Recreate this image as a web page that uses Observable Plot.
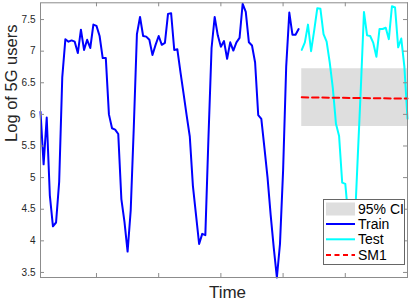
<!DOCTYPE html>
<html><head><meta charset="utf-8">
<script src="https://cdn.jsdelivr.net/npm/d3@7"></script>
<script src="https://cdn.jsdelivr.net/npm/@observablehq/plot@0.6"></script>
<style>
body{margin:0;background:#fff;}
#wrap{position:relative;width:415px;height:301px;font-family:"Liberation Sans",Arial,Helvetica,sans-serif;}
#legend{position:absolute;left:323px;top:199px;overflow:visible;}
</style></head><body><div id="wrap"></div>
<script>
// ---- data ----
const trainStart = 2;
const trainValues = [
  6.04, 5.21, 5.95, 4.72, 4.23, 4.29, 4.93, 6.59, 7.19, 7.15,
  7.17, 7.15, 6.97, 7.34, 7.02, 7.18, 7.05, 7.42, 7.40, 7.24,
  6.89, 6.89, 6.00, 5.78, 5.76, 5.69, 4.66, 4.30, 3.83, 4.48,
  5.80, 7.27, 7.54, 7.24, 7.23, 7.18, 6.94, 7.10, 7.24, 7.10,
  7.13, 7.59, 7.60, 7.02, 7.03, 6.67, 6.33, 5.98, 5.65, 4.87,
  4.41, 3.95, 4.11, 4.09, 5.63, 7.05, 7.54, 7.25, 7.07, 7.16,
  6.88, 7.14, 7.01, 7.14, 7.21, 7.75, 7.62, 7.14, 7.09, 6.82,
  5.99, 5.93, 5.47, 5.00, 4.41, 3.89, 3.42, 3.95, 5.11, 6.76,
  7.61, 7.26, 7.26, 7.35
];
const testStart = 86;
const testValues = [
  7.02, 7.14, 7.42, 7.00, 7.33, 7.68, 7.67, 7.27, 7.15, 6.82,
  6.41, 5.85, 5.66, 4.92, 4.90, 4.35, 4.05, 4.21, 5.32, 6.42,
  7.62, 7.25, 7.24, 7.13, 6.91, 7.35, 7.35, 7.37, 7.19, 7.71,
  7.69, 7.06, 7.20, 6.75, 5.93
];
const sm1Times = [86, 120];
const sm1Values = [6.27, 6.25];
const ciTimes = [86, 120];
const ciLower = [5.81, 5.81];
const ciUpper = [6.72, 6.72];
const yTicks = [3.5, 4, 4.5, 5, 5.5, 6, 6.5, 7, 7.5];
const xTicks = [20, 40, 60, 80, 100, 120];
const legendLabels = ["95% CI", "Train", "Test", "SM1"];
const xLabel = "Time";
const yLabel = "Log of 5G users";

// ---- build tables ----
const train = trainValues.map((v, i) => ({t: trainStart + i, v}));
const test = testValues.map((v, i) => ({t: testStart + i, v}));
const sm1 = sm1Times.map((t, i) => ({t, v: sm1Values[i]}));
const ci = ciTimes.map((t, i) => ({t, lo: ciLower[i], hi: ciUpper[i]}));

const W = 415, H = 301, mL = 40, mR = 8, mT = 2.3, mB = 24;
const innerW = W - mL - mR, innerH = H - mT - mB;
const axisColor = "#8c8c8c", textColor = "#262626";

const chart = Plot.plot({
  width: W, height: H,
  marginLeft: mL, marginRight: mR, marginTop: mT, marginBottom: mB,
  style: {fontFamily: '"Liberation Sans", Arial, Helvetica, sans-serif', background: "#fff"},
  x: {domain: [2, 120], axis: null},
  y: {domain: [3.42, 7.765]},
  marks: [
    Plot.areaY(ci, {x: "t", y1: "lo", y2: "hi", fill: "#dedede", fillOpacity: 1}),
    Plot.lineY(train, {x: "t", y: "v", stroke: "#0000ff", strokeWidth: 2}),
    Plot.lineY(test, {x: "t", y: "v", stroke: "#00ffff", strokeWidth: 2}),
    Plot.lineY(sm1, {x: "t", y: "v", stroke: "#ff0000", strokeWidth: 2, strokeDasharray: "6.5,3.8"}),
    Plot.frame({stroke: axisColor}),
    Plot.axisY(yTicks, {tickSize: 0, tickPadding: 5, tickFormat: d => String(d), fontSize: 10, fill: textColor, label: null}),
    Plot.tickY(yTicks, {y: d => d, insetRight: innerW - 4, stroke: axisColor}),
    Plot.tickY(yTicks, {y: d => d, insetLeft: innerW - 4, stroke: axisColor}),
    Plot.tickX(xTicks, {x: d => d, insetTop: innerH - 4, stroke: axisColor}),
    Plot.tickX(xTicks, {x: d => d, insetBottom: innerH - 4, stroke: axisColor}),
    Plot.text([yLabel], {text: d => d, frameAnchor: "left", rotate: -90, dx: -28.3, dy: 1.8, fontSize: 16.5, lineAnchor: "middle", fill: textColor}),
    Plot.text([xLabel], {text: d => d, frameAnchor: "bottom", dx: 3.5, dy: 14.6, fontSize: 17, lineAnchor: "middle", fill: textColor})
  ]
});
const wrap = document.getElementById("wrap");
wrap.appendChild(chart);

// ---- legend ----
const lw = 81, lh = 65;
const lg = d3.select(wrap).append("svg").attr("id", "legend")
  .attr("width", lw + 10).attr("height", lh + 2);
lg.append("rect").attr("x", 0.5).attr("y", 0.5).attr("width", lw).attr("height", lh)
  .attr("fill", "#fff").attr("stroke", "#666");
const rowY = [10, 25, 40.3, 56];
const styles = [
  {type: "patch", color: "#dedede"},
  {type: "line", color: "#0000ff"},
  {type: "line", color: "#00ffff"},
  {type: "line", color: "#ff0000", dash: "5,3.5"}
];
legendLabels.forEach((lab, i) => {
  const y = rowY[i], s = styles[i];
  if (s.type === "patch") {
    lg.append("rect").attr("x", 3).attr("y", y - 6.5).attr("width", 29).attr("height", 13).attr("fill", s.color);
  } else {
    lg.append("line").attr("x1", 3).attr("x2", 32).attr("y1", y).attr("y2", y)
      .attr("stroke", s.color).attr("stroke-width", 2).attr("stroke-dasharray", s.dash || null);
  }
  lg.append("text").attr("x", 35).attr("y", y).attr("dy", "0.35em")
    .attr("font-size", 14).attr("fill", "#000")
    .attr("font-family", '"Liberation Sans", Arial, Helvetica, sans-serif').text(lab);
});
</script></body></html>
